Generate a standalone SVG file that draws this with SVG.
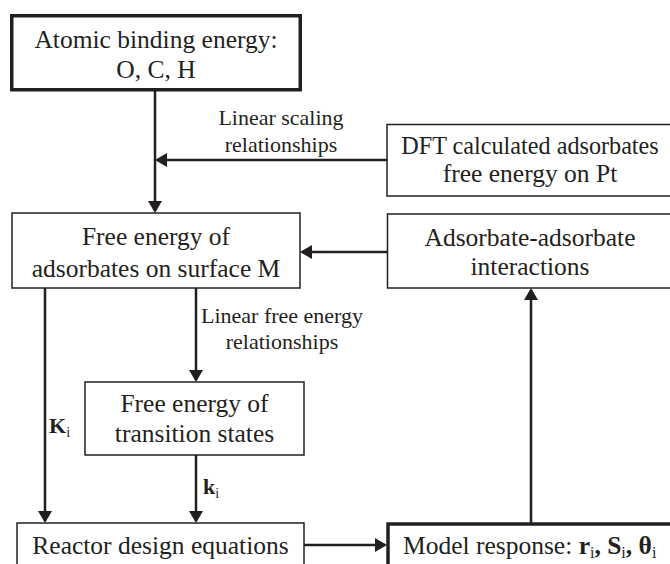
<svg xmlns="http://www.w3.org/2000/svg" width="670" height="564" viewBox="0 0 670 564">
<style>
.box{fill:#fff;stroke:#231f20;stroke-width:1.5}
.thick{fill:#fff;stroke:#231f20;stroke-width:3.5}
.t{font-family:"Liberation Serif","Times New Roman",serif;font-size:25.5px;fill:#231f20;text-anchor:middle}
.lab{font-family:"Liberation Serif","Times New Roman",serif;font-size:22px;fill:#231f20;text-anchor:middle}
.conn{stroke:#231f20;stroke-width:2.5;fill:none}
.b{font-weight:bold}
</style>
<defs>
<marker id="ah" viewBox="0 0 12 14" markerWidth="12" markerHeight="14" refX="10" refY="7" orient="auto" markerUnits="userSpaceOnUse">
<path d="M0,0 L12,7 L0,14 z" fill="#231f20"/>
</marker>
</defs>
<rect width="670" height="564" fill="#fff"/>
<g id="connectors">
<path class="conn" d="M155,91 V211" marker-end="url(#ah)"/>
<path class="conn" d="M387,160 H157" marker-end="url(#ah)"/>
<path class="conn" d="M387,252 H302" marker-end="url(#ah)"/>
<path class="conn" d="M45,288 V521" marker-end="url(#ah)"/>
<path class="conn" d="M196,288 V380" marker-end="url(#ah)"/>
<path class="conn" d="M196,455 V521" marker-end="url(#ah)"/>
<path class="conn" d="M304,545 H385" marker-end="url(#ah)"/>
<path class="conn" d="M531,523 V290" marker-end="url(#ah)"/>
<text class="lab" x="281" y="125">Linear scaling</text>
<text class="lab" x="281" y="152">relationships</text>
<text class="lab" x="282" y="323">Linear free energy</text>
<text class="lab" x="282" y="349">relationships</text>
<text x="49" y="433" font-family="Liberation Serif, serif" font-size="22" fill="#231f20"><tspan font-weight="bold">K</tspan><tspan font-size="14" dy="4">i</tspan></text>
<text x="203" y="494" font-family="Liberation Serif, serif" font-size="22" fill="#231f20"><tspan font-weight="bold">k</tspan><tspan font-size="14" dy="4">i</tspan></text>
</g>
<g id="atomic">
<rect class="thick" x="11.75" y="15.75" width="288.5" height="74"/>
<text class="t" x="156" y="48">Atomic binding energy:</text>
<text class="t" x="156" y="78">O, C, H</text>
</g>
<g id="dft">
<rect class="box" x="387" y="124.5" width="290" height="71.5"/>
<text class="t" x="530" y="154" style="font-size:24.2px">DFT calculated adsorbates</text>
<text class="t" x="530" y="182">free energy on Pt</text>
</g>
<g id="free-energy">
<rect class="box" x="12" y="213" width="288" height="75"/>
<text class="t" x="156" y="245">Free energy of</text>
<text class="t" x="156" y="277">adsorbates on surface M</text>
</g>
<g id="adsorbate">
<rect class="box" x="387.5" y="214" width="290" height="74"/>
<text class="t" x="530" y="246">Adsorbate-adsorbate</text>
<text class="t" x="530" y="275">interactions</text>
</g>
<g id="transition">
<rect class="box" x="85" y="382" width="219" height="73"/>
<text class="t" x="194.5" y="412">Free energy of</text>
<text class="t" x="194.5" y="442">transition states</text>
</g>
<g id="reactor">
<rect class="box" x="17" y="523" width="287" height="60"/>
<text class="t" x="160.5" y="554">Reactor design equations</text>
</g>
<g id="model">
<rect class="thick" x="388" y="524" width="300" height="60"/>
<text x="403" y="554" font-family="Liberation Serif, serif" font-size="25.5" fill="#231f20">Model response: <tspan font-weight="bold">r</tspan><tspan font-size="16" dy="4">i</tspan><tspan dy="-4" font-weight="bold">, S</tspan><tspan font-size="16" dy="4">i</tspan><tspan dy="-4" font-weight="bold">, θ</tspan><tspan font-size="16" dy="4">i</tspan></text>
</g>
</svg>
